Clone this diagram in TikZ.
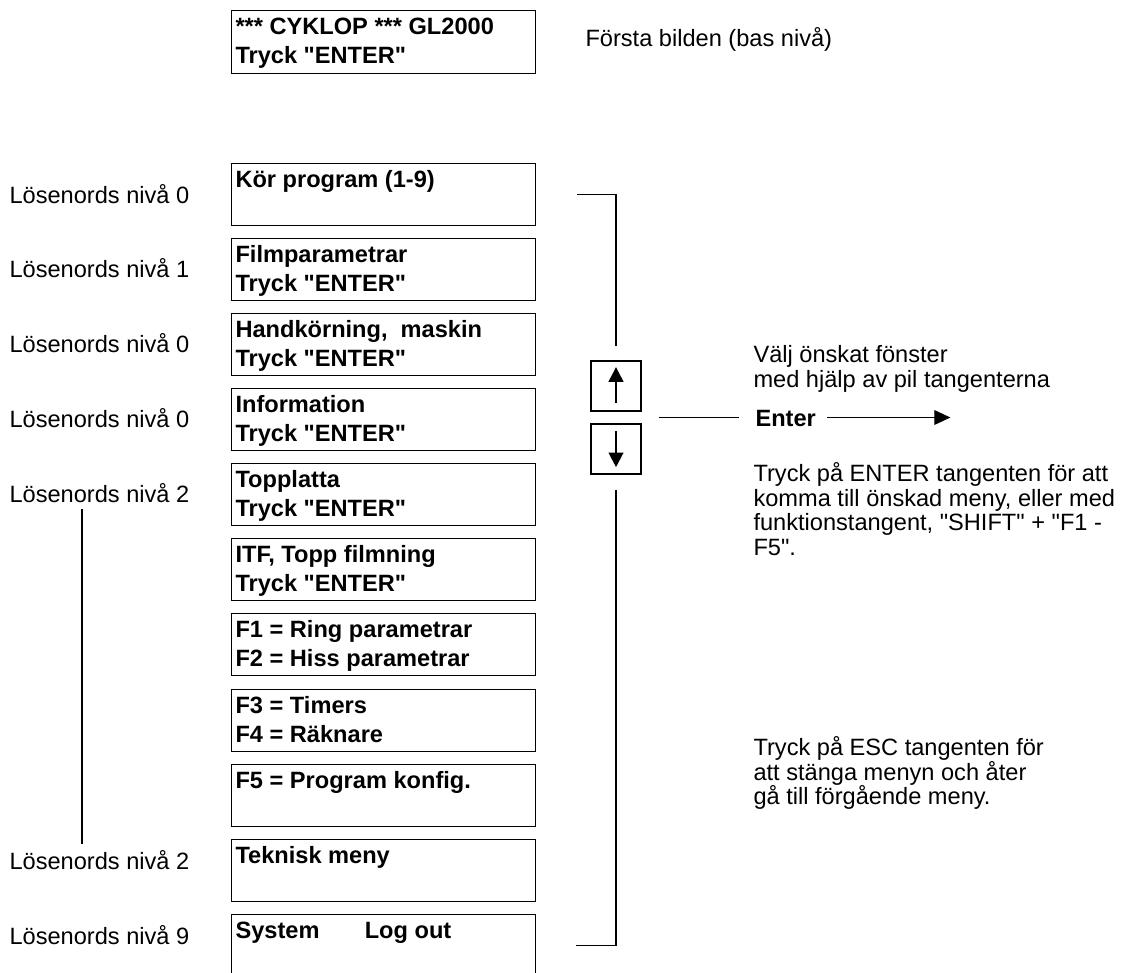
\documentclass[tikz,border=0pt]{standalone}
\usepackage{fontspec}
\setmainfont{Liberation Sans}
\usetikzlibrary{arrows.meta,calc}
\newcommand{\menufont}{\fontsize{17.7}{21.4}\selectfont\bfseries}
\newcommand{\lvlfont}{\fontsize{17.7}{21.4}\selectfont}
\newcommand{\notefont}{\fontsize{17.7}{18.4}\selectfont}
\newcommand{\mstrut}{\rule{0pt}{15pt}}
\newcommand{\nstrut}{\rule{0pt}{12.9pt}}
\newcommand{\qq}{\textquotedbl}
\begin{document}
\begin{tikzpicture}[x=0.75pt,y=-0.75pt,line width=0.8pt,
    menubox/.style={draw,anchor=north west,inner sep=0pt,minimum width=228pt,minimum height=46.5pt},
    menutxt/.style={anchor=north west,inner sep=0pt,align=left,font=\menufont},
    lvl/.style={anchor=base west,inner sep=0pt,font=\lvlfont},
    note/.style={anchor=north west,inner sep=0pt,align=left,font=\notefont},
    keybox/.style={draw,inner sep=0pt,minimum width=37.5pt,minimum height=37.5pt},
    keyarrow/.style={line width=1.6pt,-{Triangle[length=11pt,width=11pt]}}]
            \useasboundingbox (0,0) rectangle (1130,972);
            \node[menubox,minimum height=47.25pt] (m0) at (231,10) {};
            \node[menutxt] (t0) at (235,14) {\mstrut*** CYKLOP *** GL2000\\Tryck \qq ENTER\qq};
            \node[note] (first) at (585,27) {\nstrut Första bilden (bas nivå)};
            \node[menubox] (m1) at (231,163) {};
            \node[menubox] (m2) at (231,238) {};
            \node[menubox] (m3) at (231,313) {};
            \node[menubox] (m4) at (231,388) {};
            \node[menubox] (m5) at (231,463) {};
            \node[menubox] (m6) at (231,538) {};
            \node[menubox] (m7) at (231,613) {};
            \node[menubox] (m8) at (231,689) {};
            \node[menubox] (m9) at (231,764) {};
            \node[menubox] (m10) at (231,839) {};
            \node[menubox] (m11) at (231,914) {};
            \node[menutxt] (t1) at (235,167) {\mstrut Kör program (1-9)};
            \node[menutxt] (t2) at (235,242) {\mstrut Filmparametrar\\Tryck \qq ENTER\qq};
            \node[menutxt] (t3) at (235,317) {\mstrut Handkörning,~ maskin\\Tryck \qq ENTER\qq};
            \node[menutxt] (t4) at (235,392) {\mstrut Information\\Tryck \qq ENTER\qq};
            \node[menutxt] (t5) at (235,467) {\mstrut Topplatta\\Tryck \qq ENTER\qq};
            \node[menutxt] (t6) at (235,542) {\mstrut ITF, Topp filmning\\Tryck \qq ENTER\qq};
            \node[menutxt] (t7) at (235,617) {\mstrut F1 = Ring parametrar\\F2 = Hiss parametrar};
            \node[menutxt] (t8) at (235,693) {\mstrut F3 = Timers\\F4 = Räknare};
            \node[menutxt] (t9) at (235,768) {\mstrut F5 = Program konfig.};
            \node[menutxt] (t10) at (235,843) {\mstrut Teknisk meny};
            \node[menutxt] (t11) at (235,918) {\mstrut System\hspace{34pt}Log out};
            \node[lvl] (pw1) at (9,203) {Lösenords nivå 0};
            \node[lvl] (pw2) at (9,277) {Lösenords nivå 1};
            \node[lvl] (pw3) at (9,352) {Lösenords nivå 0};
            \node[lvl] (pw4) at (9,427) {Lösenords nivå 0};
            \node[lvl] (pw5) at (9,502) {Lösenords nivå 2};
            \node[lvl] (pw10) at (9,869) {Lösenords nivå 2};
            \node[lvl] (pw11) at (9,944) {Lösenords nivå 9};
            \draw ($(pw5.south west)+(73,6)$) -- ($(pw10.north west)+(73,-5)$);
            \node[keybox] (upkey) at (616,386) {};
            \node[keybox] (downkey) at (616,449) {};
            \draw[keyarrow] ([yshift=6.5pt]upkey.south) -- ([yshift=-5pt]upkey.north);
            \draw[keyarrow] ([yshift=-6pt]downkey.north) -- ([yshift=5.5pt]downkey.south);
            \draw ($(m1.east)+(41,0)$) -| ($(upkey.north)+(0,-14)$);
            \draw ($(downkey.south)+(0,15)$) |- ($(m11.east)+(40,0)$);
            \coordinate (keymid) at ($(upkey.south east)!.5!(downkey.north east)$);
            \node[anchor=west,inner sep=0pt,font=\menufont] (enter) at (755,418) {Enter};
            \draw ($(keymid)+(17,0)$) -- ($(keymid -| enter.west)+(-16,0)$);
            \draw[-{Triangle[length=12pt,width=11pt]}] ($(keymid -| enter.east)+(11,0)$) -- ++(123,0);
            \node[note] (choose) at (753,345) {\nstrut Välj önskat fönster\\med hjälp av pil tangenterna};
            \node[note] (press) at (753,462) {\nstrut Tryck på ENTER tangenten för att\\komma till önskad meny, eller med\\funktionstangent, \qq SHIFT\qq{} + \qq F1 -\\F5\qq.};
            \node[note] (esc) at (753,736) {\nstrut Tryck på ESC tangenten för\\att stänga menyn och åter\\gå till förgående meny.};
        \end{tikzpicture}
\end{document}
